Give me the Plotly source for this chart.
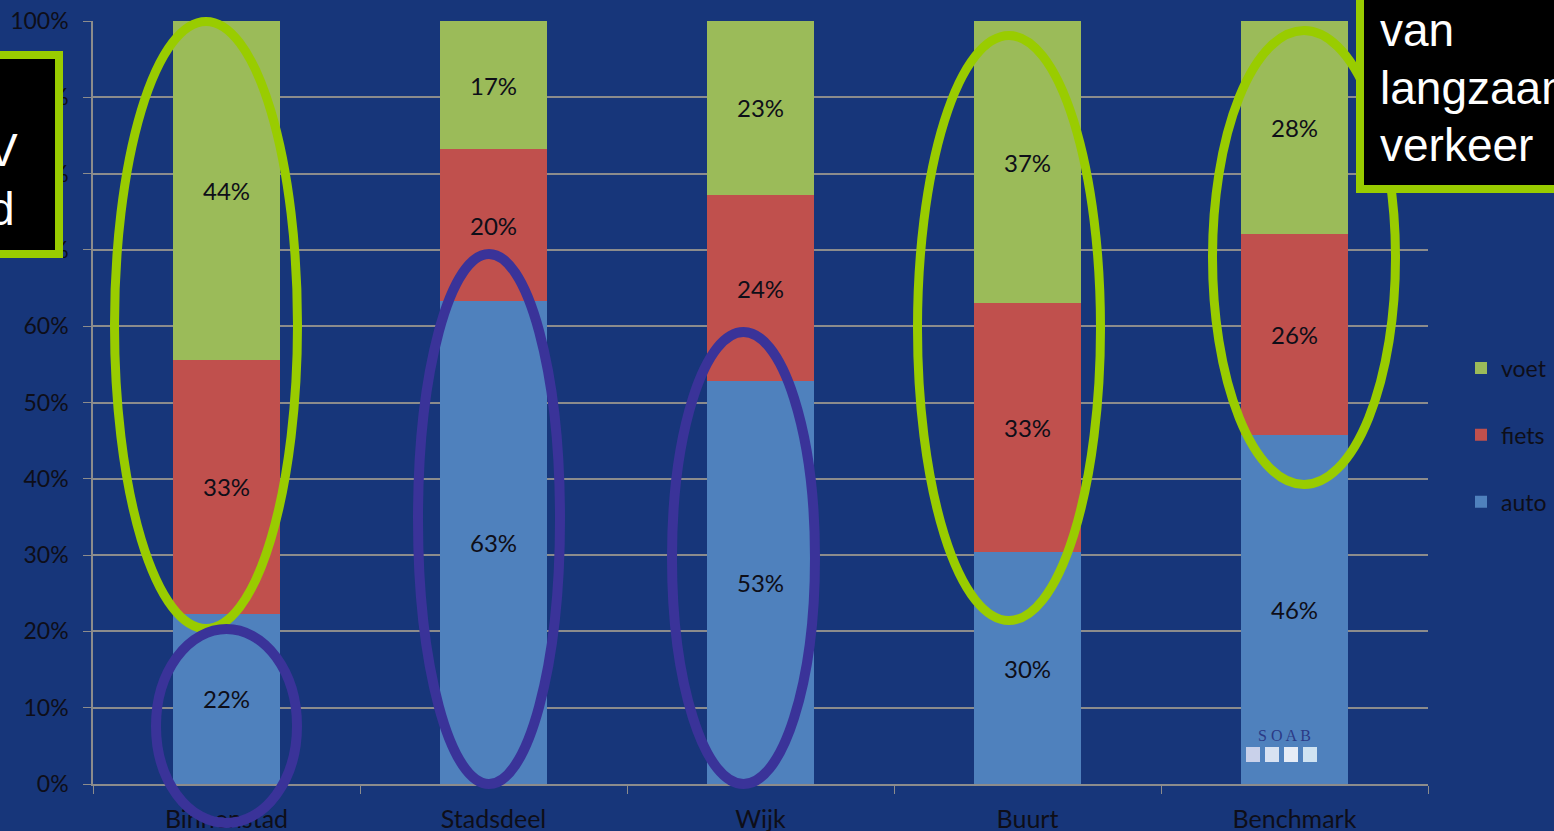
import plotly.graph_objects as go

categories = ["Binnenstad", "Stadsdeel", "Wijk", "Buurt", "Benchmark"]
auto = [22.3, 63.3, 52.8, 30.4, 45.7]
fiets = [33.3, 19.9, 24.4, 32.6, 26.4]
voet = [44.4, 16.8, 22.8, 37.0, 27.9]
y_ticks = [0, 10, 20, 30, 40, 50, 60, 70, 80, 90, 100]

BG = "#17367A"
FONT = "Lato, 'Open Sans', sans-serif"
TXT = "#0E0E18"

# plot area in pixels
L, R, T, B = 93, 1428, 21, 784
W, H = 1554, 831


def px(x):
    return (x - L) / (R - L)


def py(y):
    return (B - y) / (B - T)


fig = go.Figure()
for name, vals, col, rank in [("auto", auto, "#4F81BD", 3), ("fiets", fiets, "#C0504D", 2),
                              ("voet", voet, "#9BBB59", 1)]:
    fig.add_trace(go.Bar(
        x=categories, y=vals, name=name, marker=dict(color=col, line=dict(width=0)),
        width=0.4, texttemplate="%{y:.0f}%", textposition="inside", insidetextanchor="middle",
        textangle=0, textfont=dict(family=FONT, size=24, color=TXT),
        legendgroup=name, legendrank=rank,
    ))

shapes = []


def ellipse(x0, y0, x1, y1, color, w=9):
    shapes.append(dict(type="circle", xref="paper", yref="paper",
                       x0=px(x0 + w / 2), x1=px(x1 - w / 2), y0=py(y1 - w / 2), y1=py(y0 + w / 2),
                       line=dict(color=color, width=w), layer="above"))


GREEN = "#99CC00"
PURPLE = "#3A3399"
ellipse(110, 17, 302, 633, GREEN)
ellipse(913, 31, 1105, 625, GREEN)
ellipse(1208, 26, 1400, 489, GREEN)
ellipse(151, 624, 302, 828, PURPLE, 10)
ellipse(413, 249, 565, 789, PURPLE, 10)
ellipse(667, 327, 820, 789, PURPLE, 10)

# text boxes
shapes.append(dict(type="rect", xref="paper", yref="paper",
                   x0=px(-100), x1=px(59), y0=py(254), y1=py(55),
                   fillcolor="black", line=dict(color=GREEN, width=8), layer="above"))
shapes.append(dict(type="rect", xref="paper", yref="paper",
                   x0=px(1360), x1=px(1700), y0=py(189), y1=py(-100),
                   fillcolor="black", line=dict(color=GREEN, width=8), layer="above"))

# SOAB logo icons
for i, c in enumerate(["#C9D1EA", "#D8E2F2", "#E6ECF6", "#CFE3F2"]):
    x0 = 1246 + i * 19
    shapes.append(dict(type="rect", xref="paper", yref="paper",
                       x0=px(x0), x1=px(x0 + 14), y0=py(762), y1=py(747),
                       fillcolor=c, line=dict(width=0), layer="above"))

ann = []
BOXFONT = "'Liberation Sans', Arial, sans-serif"
for t, x, y in [("V", 20, 150), ("d", 17, 209)]:
    ann.append(dict(text=t, xref="paper", yref="paper", x=px(x), y=py(y), xanchor="right", yanchor="middle",
                    showarrow=False, font=dict(family=BOXFONT, size=46, color="white")))
for t, y in [("van", 30), ("langzaam", 88), ("verkeer", 145)]:
    ann.append(dict(text=t, xref="paper", yref="paper", x=px(1378), y=py(y), xanchor="left", yanchor="middle",
                    showarrow=False, font=dict(family=BOXFONT, size=46, color="white")))
ann.append(dict(text="S O A B", xref="paper", yref="paper", x=px(1284), y=py(735), xanchor="center",
                yanchor="middle", showarrow=False,
                font=dict(family="'Liberation Serif', 'DejaVu Serif', serif", size=16, color="#2B3A86")))

fig.update_layout(
    width=W, height=H, barmode="stack", bargap=0.6,
    paper_bgcolor=BG, plot_bgcolor=BG,
    margin=dict(l=L, r=W - R, t=T, b=H - B, pad=0, autoexpand=False),
    font=dict(family=FONT, size=22, color=TXT),
    shapes=shapes, annotations=ann,
    legend=dict(xref="container", yref="container", x=1461 / W, y=1 - 435 / H,
                xanchor="left", yanchor="middle", traceorder="grouped", itemwidth=30,
                tracegroupgap=34, font=dict(family=FONT, size=23, color=TXT), bgcolor="rgba(0,0,0,0)"),
)
fig.update_xaxes(showline=True, linecolor="#8C8C8C", linewidth=1.5, ticks="outside", tickson="boundaries",
                 ticklen=8, tickcolor="#8C8C8C", showgrid=False, tickfont=dict(family=FONT, size=25, color=TXT),
                 ticklabelstandoff=12, automargin=False)
fig.update_yaxes(range=[0, 100], tickvals=y_ticks, ticktext=[f"{v}%" for v in y_ticks],
                 showline=True, linecolor="#8C8C8C", linewidth=1.5, ticks="outside", ticklen=8,
                 tickcolor="#8C8C8C", showgrid=True, gridcolor="#8C8C8C", gridwidth=1.5, zeroline=False,
                 tickfont=dict(family=FONT, size=23, color=TXT), ticklabelstandoff=10, automargin=False)

fig.write_html("out.html", config={"displayModeBar": False},
               post_script="document.body.style.margin='0';document.body.style.overflow='hidden';")
